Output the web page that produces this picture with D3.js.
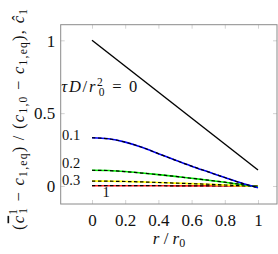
<!DOCTYPE html>
<html>
<head>
<meta charset="utf-8">
<script src="https://cdn.jsdelivr.net/npm/d3@7/dist/d3.min.js"></script>
<style>
  html, body { margin: 0; padding: 0; background: #fff; }
</style>
</head>
<body>
<div id="chart"></div>
<script>
// ── Data ──
const xTicks = [0, 0.2, 0.4, 0.6, 0.8, 1];
const yTicks = [0, 0.5, 1];
const xTickLabels = ['0', '0.2', '0.4', '0.6', '0.8', '1'];
const yTickLabels = ['0', '0.5', '1'];

const rInit  = [0, 1];
const tau0   = [1.0, 0.11];

const rGrid  = [0, 0.1, 0.2, 0.3, 0.4, 0.5, 0.6, 0.7, 0.8, 0.9, 1.0];
const tau01  = [0.331, 0.324, 0.301, 0.266, 0.222, 0.178, 0.136, 0.097, 0.058, 0.020, -0.012];
const tau02  = [0.108, 0.106, 0.099, 0.089, 0.078, 0.066, 0.053, 0.040, 0.026, 0.010, -0.006];
const tau03  = [0.034, 0.033, 0.031, 0.028, 0.024, 0.020, 0.016, 0.012, 0.007, 0.002, -0.003];
const tau1   = [0.002, 0.002, 0.002, 0.002, 0.002, 0.001, 0.001, 0.001, 0.000, 0.000, -0.001];

const seriesColors = ['#0000ff', '#00ee00', '#ffff00', '#ff2020'];

(function () {
  'use strict';

  const W = 278, H = 254;
  const FONT = "'Liberation Serif', serif";
  const frame = { left: 60.7, right: 277, top: 24.7, bottom: 204 };

  const svg = d3.select('#chart').append('svg')
    .attr('width', W).attr('height', H)
    .attr('font-family', FONT);

  // scales: x 0→92px, 1→258px ; y 0→186px, 1→40px
  const x = d3.scaleLinear().domain([0, 1]).range([92, 258]);
  const y = d3.scaleLinear().domain([0, 1]).range([186, 40.3]);

  // ── Frame & ticks ──
  const tickCol = '#c8c8c8';
  const tl = 4;
  const axB = svg.append('g').attr('transform', `translate(0,${frame.bottom})`)
    .call(d3.axisBottom(x).tickValues(xTicks).tickFormat((d, i) => xTickLabels[i]).tickSizeInner(-tl).tickSizeOuter(0));
  const axT = svg.append('g').attr('transform', `translate(0,${frame.top})`)
    .call(d3.axisTop(x).tickValues(xTicks).tickFormat('').tickSizeInner(-tl).tickSizeOuter(0));
  const axL = svg.append('g').attr('transform', `translate(${frame.left},0)`)
    .call(d3.axisLeft(y).tickValues(yTicks).tickFormat((d, i) => yTickLabels[i]).tickSizeInner(-tl).tickSizeOuter(0));
  const axR = svg.append('g').attr('transform', `translate(${frame.right},0)`)
    .call(d3.axisRight(y).tickValues(yTicks).tickFormat('').tickSizeInner(-tl).tickSizeOuter(0));

  [axB, axT, axL, axR].forEach(a => {
    a.attr('font-family', FONT);
    a.select('.domain').remove();
    a.selectAll('.tick line').attr('stroke', tickCol).attr('stroke-width', 0.8);
    a.selectAll('.tick text')
      .attr('font-family', FONT)
      .attr('font-size', 17).attr('fill', '#111');
  });
  axB.selectAll('.tick text').attr('y', 6).attr('dy', '0.95em');
  axL.selectAll('.tick text').attr('x', -5.5).attr('dy', '0.34em');

  svg.append('rect')
    .attr('x', frame.left).attr('y', frame.top)
    .attr('width', frame.right - frame.left).attr('height', frame.bottom - frame.top)
    .attr('fill', 'none').attr('stroke', '#8a8a8a').attr('stroke-width', 1);

  // ── Curves ──
  const line = d3.line().x(d => x(d[0])).y(d => y(d[1])).curve(d3.curveCatmullRom);

  svg.append('path')
    .attr('d', d3.line().x(d => x(d[0])).y(d => y(d[1]))(d3.zip(rInit, tau0)))
    .attr('fill', 'none').attr('stroke', '#000').attr('stroke-width', 1.4);

  const seriesData = [tau01, tau02, tau03, tau1];
  // bottom-most first so upper lines sit on top
  seriesData.slice().reverse().forEach((vals, k) => {
    const i = seriesData.length - 1 - k;
    const pts = d3.zip(rGrid, vals);
    svg.append('path').attr('d', line(pts))
      .attr('fill', 'none').attr('stroke', seriesColors[i]).attr('stroke-width', 1.6);
    svg.append('path').attr('d', line(pts))
      .attr('fill', 'none').attr('stroke', '#000').attr('stroke-width', 1.2)
      .attr('stroke-dasharray', '3.5,2.5');
  });

  // ── Curve labels ──
  const lab = svg.append('g').attr('font-family', FONT).attr('font-size', 14.5).attr('fill', '#111');
  const t0 = lab.append('text').attr('x', 61.3).attr('y', 92).attr('font-size', 16.5)
    .attr('textLength', 76).attr('lengthAdjust', 'spacing');
  t0.append('tspan').attr('font-style', 'italic').text('τD');
  t0.append('tspan').text('/');
  t0.append('tspan').attr('font-style', 'italic').text('r');
  t0.append('tspan').attr('font-size', 11.5).attr('dy', -6.5).text('2');
  t0.append('tspan').attr('font-size', 11.5).attr('dx', -5.8).attr('dy', 10.5).text('0');
  t0.append('tspan').attr('dy', -4).text('  =  0');

  lab.append('text').attr('x', 62).attr('y', 140).text('0.1');
  lab.append('text').attr('x', 62).attr('y', 168).text('0.2');
  lab.append('text').attr('x', 62).attr('y', 185).text('0.3');
  lab.append('text').attr('x', 102.5).attr('y', 197).text('1');

  // ── Axis titles ──
  const xl = svg.append('text').attr('x', 169).attr('y', 244)
    .attr('text-anchor', 'middle').attr('font-family', FONT).attr('font-size', 17).attr('fill', '#111');
  xl.append('tspan').attr('font-style', 'italic').text('r');
  xl.append('tspan').text(' / ');
  xl.append('tspan').attr('font-style', 'italic').text('r');
  xl.append('tspan').attr('font-size', 12).attr('dy', 3).text('0');

  const yl = svg.append('text')
    .attr('transform', 'translate(23.5,119.5) rotate(-90)')
    .attr('text-anchor', 'middle').attr('font-family', FONT).attr('font-size', 16.5).attr('fill', '#111')
    .attr('textLength', 221).attr('lengthAdjust', 'spacing');
  yl.append('tspan').text('(');
  yl.append('tspan').attr('font-style', 'italic').style('text-decoration', 'overline').text('c');
  yl.append('tspan').attr('font-size', 11.5).attr('dy', -6.5).text('1');
  yl.append('tspan').attr('font-size', 11.5).attr('dx', -5.8).attr('dy', 10).text('1');
  yl.append('tspan').attr('dy', -3.5).text(' − ');
  yl.append('tspan').attr('font-style', 'italic').text('c');
  yl.append('tspan').attr('font-size', 11.5).attr('dy', 3).text('1,eq');
  yl.append('tspan').attr('dy', -3).text(')  /  (');
  yl.append('tspan').attr('font-style', 'italic').text('c');
  yl.append('tspan').attr('font-size', 11.5).attr('dy', 3).text('1,0');
  yl.append('tspan').attr('dy', -3).text(' − ');
  yl.append('tspan').attr('font-style', 'italic').text('c');
  yl.append('tspan').attr('font-size', 11.5).attr('dy', 3).text('1,eq');
  yl.append('tspan').attr('dy', -3).text('),   ');
  yl.append('tspan').attr('font-style', 'italic').text('ĉ');
  yl.append('tspan').attr('font-size', 11.5).attr('dy', 3).text('1');
})();
</script>
</body>
</html>
